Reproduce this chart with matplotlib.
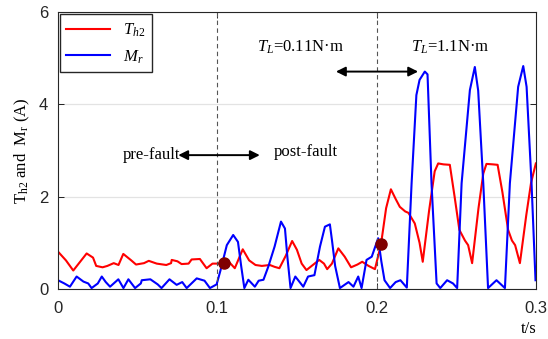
import numpy as np
import matplotlib
matplotlib.use('Agg')
import matplotlib.pyplot as plt

# values
t_th2 = [0.000, 0.005, 0.0096, 0.013, 0.018, 0.022, 0.024, 0.028, 0.031, 0.035,
         0.038, 0.041, 0.046, 0.049, 0.054, 0.057, 0.062, 0.068, 0.071, 0.0714,
         0.075, 0.0776, 0.082, 0.0839, 0.0891, 0.0933, 0.097, 0.101, 0.104, 0.107,
         0.111, 0.116, 0.120, 0.124, 0.128, 0.133, 0.136, 0.139, 0.143, 0.147,
         0.150, 0.153, 0.156, 0.160, 0.164, 0.167, 0.169, 0.172, 0.176, 0.180,
         0.184, 0.188, 0.191, 0.195, 0.199, 0.2028, 0.206, 0.209, 0.212, 0.2146,
         0.218, 0.220, 0.224, 0.227, 0.229, 0.233, 0.2365, 0.2387, 0.242, 0.246,
         0.249, 0.252, 0.2555, 0.2575, 0.260, 0.264, 0.267, 0.269, 0.273, 0.276,
         0.279, 0.2826, 0.285, 0.287, 0.290, 0.294, 0.297, 0.300]
th2 = [0.81, 0.62, 0.40, 0.55, 0.77, 0.68, 0.50, 0.47, 0.50, 0.56,
       0.52, 0.76, 0.62, 0.53, 0.56, 0.61, 0.55, 0.52, 0.56, 0.63,
       0.60, 0.54, 0.55, 0.64, 0.65, 0.45, 0.55, 0.55, 0.56, 0.60,
       0.45, 0.86, 0.62, 0.52, 0.50, 0.52, 0.48, 0.45, 0.72, 1.04,
       0.85, 0.55, 0.41, 0.52, 0.63, 0.55, 0.43, 0.55, 0.88, 0.70,
       0.47, 0.53, 0.59, 0.50, 0.43, 0.97, 1.75, 2.16, 1.95, 1.78,
       1.68, 1.65, 1.42, 1.00, 0.59, 1.70, 2.55, 2.72, 2.70, 2.69,
       2.00, 1.28, 1.05, 0.95, 0.56, 1.75, 2.50, 2.71, 2.70, 2.69,
       2.10, 1.28, 1.05, 0.95, 0.56, 1.60, 2.30, 2.72]

t_mr = [0.000, 0.004, 0.0075, 0.0117, 0.016, 0.019, 0.0211, 0.025, 0.0275, 0.030,
        0.0327, 0.0379, 0.0411, 0.0442, 0.0484, 0.052, 0.0526, 0.058, 0.0626, 0.065,
        0.070, 0.0745, 0.078, 0.0808, 0.0871, 0.092, 0.0954, 0.0996, 0.102, 0.106,
        0.110, 0.113, 0.115, 0.117, 0.1195, 0.1236, 0.126, 0.129, 0.132, 0.136,
        0.140, 0.1425, 0.144, 0.146, 0.149, 0.154, 0.157, 0.161, 0.1645, 0.1676,
        0.1707, 0.172, 0.174, 0.177, 0.1824, 0.1855, 0.1885, 0.1906, 0.1937, 0.197,
        0.201, 0.203, 0.205, 0.2085, 0.212, 0.215, 0.219, 0.222, 0.225, 0.227,
        0.2303, 0.232, 0.2345, 0.2377, 0.240, 0.2443, 0.248, 0.2506, 0.2534, 0.2586,
        0.2617, 0.2638, 0.267, 0.270, 0.2753, 0.2806, 0.2837, 0.2889, 0.2921, 0.2942,
        0.2973, 0.2998]
mr = [0.19, 0.12, 0.05, 0.27, 0.16, 0.12, 0.02, 0.12, 0.27, 0.15,
      0.05, 0.21, 0.02, 0.21, 0.02, 0.12, 0.19, 0.21, 0.10, 0.02,
      0.21, 0.09, 0.15, 0.02, 0.23, 0.18, 0.02, 0.10, 0.40, 0.95,
      1.17, 1.02, 0.50, 0.02, 0.20, 0.05, 0.18, 0.20, 0.48, 0.92,
      1.46, 1.31, 0.70, 0.02, 0.27, 0.05, 0.27, 0.30, 0.92, 1.35,
      1.40, 1.06, 0.50, 0.02, 0.15, 0.05, 0.27, 0.02, 0.63, 0.70,
      1.10, 0.60, 0.19, 0.02, 0.15, 0.19, 0.03, 2.29, 4.20, 4.53,
      4.71, 4.65, 2.29, 0.12, 0.02, 0.19, 0.12, 0.02, 2.29, 4.31,
      4.81, 4.30, 2.29, 0.02, 0.19, 0.02, 2.29, 4.38, 4.83, 4.38,
      2.29, 0.19]

fault_t = [0.1, 0.2]
mark_t = [0.104, 0.2028]
mark_v = [0.56, 0.97]

plt.rcParams['mathtext.fontset'] = 'custom'
plt.rcParams['mathtext.rm'] = 'Liberation Serif'
plt.rcParams['mathtext.it'] = 'Liberation Serif:italic'

serif = 'Liberation Serif'

fig = plt.figure(figsize=(5.48, 3.39), dpi=100)
ax = fig.add_axes([0.1058, 0.1475, 0.872, 0.817])

ax.plot(t_th2, th2, color='red', lw=1.5, label='$T_{h2}$')
ax.plot(t_mr, mr, color='blue', lw=1.5, label='$M_r$')
for x in fault_t:
    ax.axvline(x, color='#555555', lw=0.8, ls=(0, (4, 3)))
ax.plot(mark_t, mark_v, 'o', color='#800000', ms=8, zorder=5)

ax.set_xlim(0, 0.3)
ax.set_ylim(0, 6)
ax.set_xticks([0, 0.1, 0.2, 0.3])
ax.set_xticklabels(['0', '0.1', '0.2', '0.3'])
ax.set_yticks([0, 2, 4, 6])
ax.yaxis.grid(True, color='#e3e3e3', lw=0.9)
ax.set_axisbelow(True)
ax.tick_params(direction='in', top=True, right=True, labelsize=12,
               labelcolor='#262626', length=4, width=0.6)
ax.tick_params(axis='x', pad=9)
ax.tick_params(axis='y', pad=7)
for lab in ax.get_xticklabels() + ax.get_yticklabels():
    lab.set_fontfamily('Liberation Sans')
for s in ax.spines.values():
    s.set_linewidth(0.8)
    s.set_color('#262626')

ax.set_ylabel('T$_{\\mathrm{h2}}$ and  M$_{\\mathrm{r}}$ (A)', fontsize=12,
              fontfamily=serif, labelpad=5)
ax.text(0.985, -0.145, 't/s', transform=ax.transAxes, fontsize=12,
        fontfamily=serif, ha='center', va='center')

leg = ax.legend(loc='upper left', fontsize=12, handlelength=2.6,
                fancybox=False, borderaxespad=0.1, framealpha=1,
                edgecolor='#262626')
leg.get_frame().set_linewidth(1.0)

arrow = dict(arrowstyle='<|-|>', color='black', lw=1.4, mutation_scale=14,
             shrinkA=0, shrinkB=0)
ax.annotate('', xy=(0.0755, 2.90), xytext=(0.1267, 2.90), arrowprops=arrow)
ax.annotate('', xy=(0.1745, 4.71), xytext=(0.2261, 4.71), arrowprops=arrow)

ax.text(0.0767, 2.90, 'pre-fault', fontsize=12, fontfamily=serif,
        ha='right', va='center')
ax.text(0.1356, 2.97, 'post-fault', fontsize=12, fontfamily=serif,
        ha='left', va='center')
ax.text(0.1247, 5.23, '$T_L$=0.11N·m', fontsize=12, fontfamily=serif,
        ha='left', va='center')
ax.text(0.2214, 5.23, '$T_L$=1.1N·m', fontsize=12, fontfamily=serif,
        ha='left', va='center')

fig.savefig('out.png', dpi=100)
